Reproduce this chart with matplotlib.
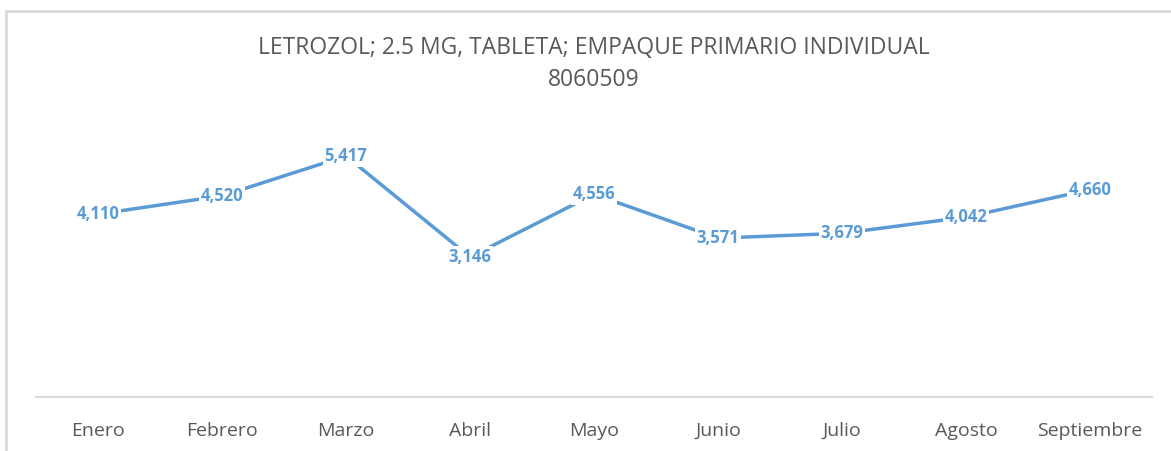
import matplotlib.pyplot as plt
from matplotlib.patches import Rectangle

meses = ['Enero', 'Febrero', 'Marzo', 'Abril', 'Mayo', 'Junio', 'Julio', 'Agosto', 'Septiembre']
valores = [4110, 4520, 5417, 3146, 4556, 3571, 3679, 4042, 4660]
titulo = 'LETROZOL; 2.5 MG, TABLETA; EMPAQUE PRIMARIO INDIVIDUAL'
clave = '8060509'

azul = '#5B9BD5'
gris = '#595959'

plt.rcParams['font.family'] = ['Open Sans', 'DejaVu Sans']

fig = plt.figure(figsize=(11.71, 4.51), dpi=100)

# marco del grafico
fig.patches.append(Rectangle((6 / 1171, -0.1), 1.2, 1.1 - 11 / 451,
                             transform=fig.transFigure, fill=False,
                             edgecolor='#d9d9d9', linewidth=2))

ax = fig.add_axes([36 / 1171, 1 - 397 / 451, 1116 / 1171, 267 / 451])
x = list(range(len(meses)))
ax.plot(x, valores, color=azul, linewidth=2.5, solid_capstyle='butt', zorder=2)

for xi, v in zip(x, valores):
    ax.text(xi, v, f'{v:,}', ha='center', va='center', color=azul,
            fontsize=12, fontweight='bold', zorder=3,
            bbox=dict(boxstyle='square,pad=0.1', facecolor='white', edgecolor='none'))

ax.set_xlim(-0.5, len(meses) - 0.5)
ax.set_ylim(0, 6000)
ax.set_xticks(x)
ax.set_xticklabels(meses, color=gris, fontsize=14)
ax.tick_params(axis='x', length=0, pad=18)
ax.set_yticks([])
for s in ['top', 'left', 'right']:
    ax.spines[s].set_visible(False)
ax.spines['bottom'].set_color('#d9d9d9')
ax.spines['bottom'].set_linewidth(1.5)

fig.text(594 / 1171, 1 - 48 / 451, titulo, ha='center', va='center',
         color=gris, fontsize=16.5)
fig.text(594 / 1171, 1 - 80 / 451, clave, ha='center', va='center',
         color=gris, fontsize=16.5)

fig.savefig('out.png', dpi=100)
